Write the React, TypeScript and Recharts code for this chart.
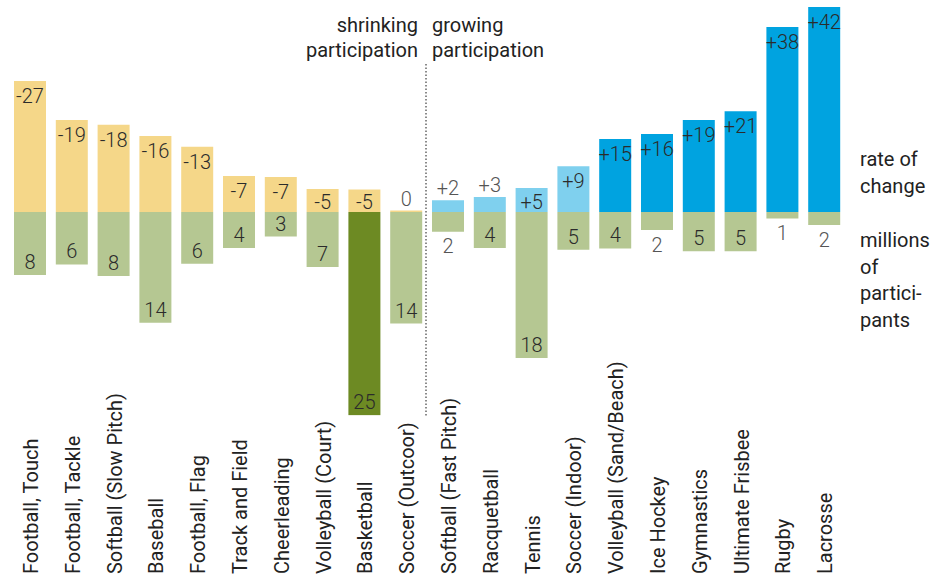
import React from 'react';
import { BarChart, Bar, XAxis, YAxis, Cell, LabelList } from 'recharts';

const sports = [
  'Football, Touch', 'Football, Tackle', 'Softball (Slow Pitch)', 'Baseball', 'Football, Flag',
  'Track and Field', 'Cheerleading', 'Volleyball (Court)', 'Basketball', 'Soccer (Outcoor)',
  'Softball (Fast Pitch)', 'Racquetball', 'Tennis', 'Soccer (Indoor)', 'Volleyball (Sand/Beach)',
  'Ice Hockey', 'Gymnastics', 'Ultimate Frisbee', 'Rugby', 'Lacrosse',
];
const rateOfChange = [-26.9, -18.9, -17.9, -15.6, -13.4, -7.4, -7.2, -4.7, -4.6, -0.3, 2.4, 3.1, 4.9, 9.4, 15.0, 16.0, 18.9, 20.7, 38.0, 42.1];
const participants = [7.7, 6.4, 7.8, 13.5, 6.3, 4.4, 3.0, 6.7, 24.8, 13.6, 2.4, 4.4, 17.8, 4.6, 4.45, 2.2, 4.8, 4.8, 0.8, 1.6];
const highlighted = 'Basketball';
const shrinkingLabel = ['shrinking', 'participation'];
const growingLabel = ['growing', 'participation'];
const rateLegend = ['rate of', 'change'];
const partLegend = ['millions', 'of', 'partici-', 'pants'];

const W = 939;
const H = 575;
const M = { top: 7, left: 9, right: 94, bottom: 9.5 };
const XAXIS_H = 150;
const FONT = 'Roboto, "Noto Sans", sans-serif';
const LIGHT = 300;
const YELLOW = '#f5d789';
const LIGHT_BLUE = '#7fd0ee';
const DARK_BLUE = '#00a3e0';
const LIGHT_GREEN = '#b5c792';
const DARK_GREEN = '#6d8a23';

const data = sports.map((s, i) => ({ sport: s, rate: Math.abs(rateOfChange[i]), part: -participants[i] }));

const rateColor = (v: number) => (v < 0 ? YELLOW : v < 10 ? LIGHT_BLUE : DARK_BLUE);
const fmtRate = (v: number) => {
  const r = Math.round(v);
  if (r === 0) return '0';
  return r > 0 ? `+${r}` : `-${Math.abs(r)}`;
};

const RateLabel = (props: any) => {
  const { x, y, width, height, index } = props;
  const top = Math.min(y, y + height);
  const bottom = Math.max(y, y + height);
  const h = bottom - top;
  const inside = h >= 18;
  const ty = inside ? Math.min(top + 22, bottom - 3) : top - 5;
  return (
    <text x={x + width / 2} y={ty} textAnchor="middle" fontSize={20} fontFamily={FONT} fontWeight={LIGHT}
      fill={inside ? '#2b2b2b' : '#555'}>{fmtRate(rateOfChange[index])}</text>
  );
};

const PartLabel = (props: any) => {
  const { x, y, width, height, index } = props;
  const top = Math.min(y, y + height);
  const bottom = Math.max(y, y + height);
  const h = bottom - top;
  const inside = h >= 22;
  const ty = inside ? bottom - 6 : bottom + 21.5;
  return (
    <text x={x + width / 2} y={ty} textAnchor="middle" fontSize={20} fontFamily={FONT} fontWeight={LIGHT}
      fill={inside ? '#2b2b2b' : '#555'}>{String(Math.round(participants[index]))}</text>
  );
};

const SportTick = (props: any) => {
  const { x, payload } = props;
  return (
    <text transform={`translate(${x + 8},${H - 1}) rotate(-90)`} textAnchor="start" fontSize={20}
      fontFamily={FONT} fill="#222">{payload.value}</text>
  );
};

export default function App() {
  const plotW = W - M.left - M.right;
  const band = plotW / sports.length;
  const dividerX = M.left + band * 10 - 1;
  const plotBottom = H - M.bottom - XAXIS_H;
  return (
    <div style={{ position: 'absolute', left: 0, top: 0, width: W, height: H, background: '#fff' }}>
      <BarChart width={W} height={H} data={data} margin={M} barGap={-32} barCategoryGap={0}>
        <XAxis dataKey="sport" height={XAXIS_H} interval={0} axisLine={false} tickLine={false} tick={<SportTick />} />
        <YAxis yAxisId="rate" hide domain={[-41.79, 42.09]} allowDataOverflow type="number" />
        <YAxis yAxisId="part" hide domain={[-24.82, 25.0]} allowDataOverflow type="number" />
        <Bar yAxisId="rate" dataKey="rate" barSize={32} isAnimationActive={false}>
          {data.map((d, i) => (
            <Cell key={`r${i}`} fill={rateColor(rateOfChange[i])} />
          ))}
          <LabelList dataKey="rate" content={RateLabel} />
        </Bar>
        <Bar yAxisId="part" dataKey="part" barSize={32} isAnimationActive={false}>
          {data.map((d, i) => (
            <Cell key={`p${i}`} fill={d.sport === highlighted ? DARK_GREEN : LIGHT_GREEN} />
          ))}
          <LabelList dataKey="part" content={PartLabel} />
        </Bar>
      </BarChart>
      <svg width={W} height={H} style={{ position: 'absolute', left: 0, top: 0, pointerEvents: 'none' }}>
        <line x1={dividerX} x2={dividerX} y1={64} y2={plotBottom} stroke="#666" strokeWidth={1.5} strokeDasharray="1.5 2" />
        {shrinkingLabel.map((t, i) => (
          <text key={`s${i}`} x={dividerX - 8} y={32 + i * 25} textAnchor="end" fontSize={20} fontFamily={FONT} fill="#222">{t}</text>
        ))}
        {growingLabel.map((t, i) => (
          <text key={`g${i}`} x={dividerX + 6} y={32 + i * 25} textAnchor="start" fontSize={20} fontFamily={FONT} fill="#222">{t}</text>
        ))}
        {rateLegend.map((t, i) => (
          <text key={`rl${i}`} x={860} y={166 + i * 26.7} fontSize={20} fontFamily={FONT} fill="#222">{t}</text>
        ))}
        {partLegend.map((t, i) => (
          <text key={`pl${i}`} x={860} y={247 + i * 26.7} fontSize={20} fontFamily={FONT} fill="#222">{t}</text>
        ))}
      </svg>
    </div>
  );
}
